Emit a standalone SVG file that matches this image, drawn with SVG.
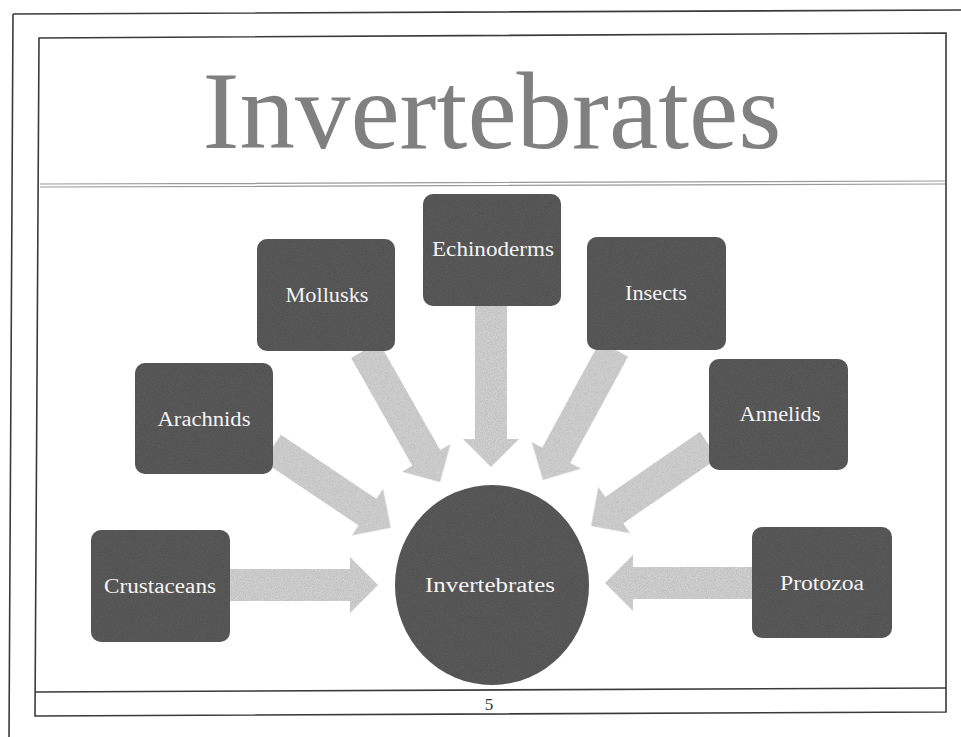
<svg xmlns="http://www.w3.org/2000/svg" width="961" height="737" viewBox="0 0 961 737">
<defs>
<filter id="grain" x="0" y="0" width="100%" height="100%">
<feTurbulence type="fractalNoise" baseFrequency="0.9" numOctaves="2" seed="3" result="n"/>
<feColorMatrix in="n" type="matrix" values="0 0 0 0 0  0 0 0 0 0  0 0 0 0 0  0 0 0 0.35 0" result="d"/>
<feComposite in="d" in2="SourceGraphic" operator="in" result="dn"/>
<feMerge><feMergeNode in="SourceGraphic"/><feMergeNode in="dn"/></feMerge>
</filter>
</defs>
<style>
.frame{fill:none;stroke:#3a3a3a;stroke-width:1.6}
.rule{fill:none;stroke:#9a9a9a;stroke-width:1.2}
.box{fill:#5e5e5e;filter:url(#grain)}
.arrow{fill:#dcdcdc;filter:url(#grain)}
.lbl{font-family:"Liberation Serif","Times New Roman",serif;font-size:20px;fill:#f4f4f4;text-anchor:middle}
.title{font-family:"Liberation Serif","Times New Roman",serif;font-size:111px;fill:#808080;text-anchor:middle}
.pg{font-family:"Liberation Serif","Times New Roman",serif;font-size:17px;fill:#333;text-anchor:middle}
</style>
<rect width="961" height="737" fill="#ffffff"/>
<g id="page">
<path class="frame" d="M13,14 L961,10 M13,14 L9,737"/>
<polygon class="frame" points="39,38 946,33 946,712 35,716"/>
<path class="rule" d="M40,184 L945,181 M40,187 L945,184"/>
<path class="frame" d="M35,692 L946,688"/>
<text class="title" x="492" y="148" textLength="579" lengthAdjust="spacingAndGlyphs">Invertebrates</text>
<text class="pg" x="489" y="710">5</text>
</g>
<g id="connectors">
<polygon class="arrow" transform="translate(230,585)" points="0,-16 120,-16 120,-28 148,0 120,28 120,16 0,16"/>
<polygon class="arrow" transform="translate(752,583) rotate(180)" points="0,-16 119,-16 119,-28 147,0 119,28 119,16 0,16"/>
<polygon class="arrow" transform="translate(491,306) rotate(90)" points="0,-16 133,-16 133,-28 161,0 133,28 133,16 0,16"/>
<polygon class="arrow" transform="translate(365,350) rotate(60.4)" points="0,-16 124,-16 124,-28 152,0 124,28 124,16 0,16"/>
<polygon class="arrow" transform="translate(614,349) rotate(118.5)" points="0,-16 121,-16 121,-28 149,0 121,28 121,16 0,16"/>
<polygon class="arrow" transform="translate(272,448) rotate(33.9)" points="0,-16 115,-16 115,-28 143,0 115,28 115,16 0,16"/>
<polygon class="arrow" transform="translate(709,445) rotate(145.5)" points="0,-16 115,-16 115,-28 143,0 115,28 115,16 0,16"/>
</g>
<g id="echinoderms">
<rect class="box" x="423" y="194" width="138" height="112" rx="10"/>
<text class="lbl" x="493" y="256" textLength="122" lengthAdjust="spacingAndGlyphs">Echinoderms</text>
</g>
<g id="mollusks">
<rect class="box" x="257" y="239" width="138" height="112" rx="10"/>
<text class="lbl" x="327" y="302" textLength="83" lengthAdjust="spacingAndGlyphs">Mollusks</text>
</g>
<g id="insects">
<rect class="box" x="587" y="237" width="139" height="113" rx="10"/>
<text class="lbl" x="656" y="300" textLength="62" lengthAdjust="spacingAndGlyphs">Insects</text>
</g>
<g id="arachnids">
<rect class="box" x="135" y="363" width="138" height="111" rx="10"/>
<text class="lbl" x="204" y="426" textLength="93" lengthAdjust="spacingAndGlyphs">Arachnids</text>
</g>
<g id="annelids">
<rect class="box" x="709" y="359" width="139" height="111" rx="10"/>
<text class="lbl" x="780" y="421" textLength="81" lengthAdjust="spacingAndGlyphs">Annelids</text>
</g>
<g id="crustaceans">
<rect class="box" x="91" y="530" width="139" height="112" rx="10"/>
<text class="lbl" x="160" y="593" textLength="112" lengthAdjust="spacingAndGlyphs">Crustaceans</text>
</g>
<g id="protozoa">
<rect class="box" x="752" y="527" width="140" height="111" rx="10"/>
<text class="lbl" x="822" y="590" textLength="84" lengthAdjust="spacingAndGlyphs">Protozoa</text>
</g>
<g id="invertebrates">
<ellipse class="box" cx="492" cy="585" rx="97" ry="100"/>
<text class="lbl" x="490" y="592" textLength="130" lengthAdjust="spacingAndGlyphs">Invertebrates</text>
</g>
</svg>
